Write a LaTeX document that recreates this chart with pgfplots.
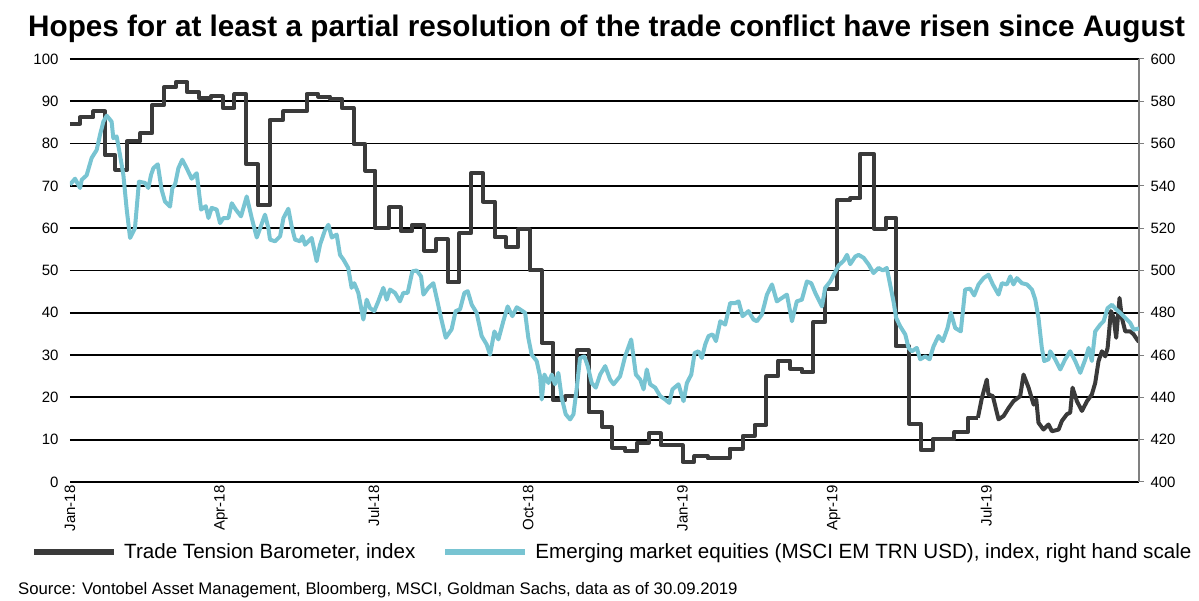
\documentclass[border=0pt]{standalone}
\usepackage{pgfplots}
\pgfplotsset{compat=1.18}
\usepackage{fontspec}
\setmainfont{Liberation Sans}

\definecolor{ttb}{RGB}{58,58,58}
\definecolor{msci}{RGB}{120,196,210}
\definecolor{raxis}{RGB}{128,128,128}

\begin{document}
\begin{tikzpicture}
\path[use as bounding box] (-70pt,-119pt) rectangle (1129pt,482pt);

% title and source (pixel-matched, 1pt ~ 1px)
\node[anchor=base west, font=\fontsize{29.7}{32}\selectfont\bfseries, inner sep=0pt]
  at (-42pt,445pt) {Hopes for at least a partial resolution of the trade conflict have risen since August};
\node[anchor=base west, font=\fontsize{16.75}{19}\selectfont, inner sep=0pt]
  at (-52pt,-113pt) {Source: Vontobel Asset Management, Bloomberg, MSCI, Goldman Sachs, data as of 30.09.2019};

% left scale: Trade Tension Barometer (days since 1 Jan 2018)
\begin{axis}[
    scale only axis,
    width=1069pt, height=423pt,
    xmin=0, xmax=637,
    ymin=0, ymax=100,
    ytick distance=10,
    xtick={0,90,181,273,365,455,546},
    xticklabels={Jan-18,Apr-18,Jul-18,Oct-18,Jan-19,Apr-19,Jul-19},
    xticklabel style={rotate=90, anchor=east, font=\fontsize{15}{17}\selectfont},
    yticklabel style={font=\fontsize{15}{17}\selectfont, xshift=-8pt},
    /pgf/number format/assume math mode=true,
    axis line style={draw=none},
    major tick length=0pt,
    ymajorgrids=true,
    grid style={black, line width=1.8pt},
    tick label style={black},
]
\addplot[const plot, color=ttb, line width=4pt, line join=round] coordinates {
(0,84.7)(6,86.2)(14,87.6)(21,77.2)(27,73.8)(34,80.5)(42,82.5)(49,89.1)(56,93.3)(63,94.5)
(70,92.1)(77,90.7)(84,91.2)(91,88.4)(98,91.7)(105,75.1)(112,65.4)(119,85.6)(127,87.6)(141,91.7)
(148,91.1)(155,90.5)(162,88.4)(169,79.9)(176,73.6)(182,60.0)(190,64.9)(197,59.4)(204,60.8)(211,54.7)
(218,57.4)(225,47.2)(232,58.8)(239,73.0)(246,66.3)(253,57.8)(260,55.5)(267,59.8)(274,50.0)(281,32.9)
(288,19.3)(295,20.3)(302,31.1)(309,16.5)(317,13.0)(323,8.1)(331,7.3)(338,9.3)(345,11.5)(352,8.7)
(365,4.8)(372,6.1)(380,5.6)(393,7.9)(401,10.9)(408,13.5)(415,25.0)(422,28.7)(429,26.8)(436,26.0)
(443,37.8)(450,45.6)(457,66.6)(465,67.1)(471,77.6)(479,59.9)(486,62.5)(492,32.1)(500,13.8)(507,7.5)
(514,10.1)(527,11.8)(535,15.2)(541,15.2)
};
\addplot[color=ttb, line width=4pt, line join=round] coordinates {
(541,15.2)(543.4,19.9)(546.3,24.2)(547.3,20.7)(549.9,20.3)(553.3,14.8)(556.3,15.6)(559.3,17.5)
(562.2,19.1)(566.2,20.3)(568.2,25.4)(571.2,22.3)(574.2,18.3)(575.8,19.5)(577.1,14.0)(580.1,12.4)
(583.1,13.6)(585.1,12.0)(589.1,12.4)(591,14.4)(594,16.0)(596,16.4)(597.4,22.3)(600,19.1)
(603,16.8)(606,19.1)(608.9,20.7)(610.9,23.4)(612.9,28.6)(614.9,30.9)(616.9,29.7)(618.3,31.7)
(620.3,40.4)(621.9,38.8)(623.4,34.1)(625.4,43.5)(626.8,38.8)(628.8,35.6)(631.8,35.6)(633.8,34.9)
(635.8,33.7)(637,33.1)
};
\end{axis}

% right scale: MSCI EM TRN USD
\begin{axis}[
    scale only axis,
    width=1069pt, height=423pt,
    xmin=0, xmax=637,
    ymin=400, ymax=600,
    ytick distance=20,
    axis x line=none,
    axis y line*=right,
    y axis line style={raxis, line width=1.5pt, -},
    ytick style={raxis, line width=1pt},
    tick align=outside,
    major tick length=5pt,
    yticklabel style={font=\fontsize{15}{17}\selectfont, black, xshift=3pt},
    /pgf/number format/assume math mode=true,
    legend style={at={(axis description cs:-0.0365,-0.1655)}, anchor=west,
        draw=none, fill=none, inner sep=0pt,
        font=\fontsize{20.6}{23}\selectfont,
        /tikz/every even column/.append style={column sep=25pt}},
    legend columns=2,
    legend cell align=left,
    legend image code/.code={
        \draw[#1, line width=6pt, line cap=butt] (0pt,0pt) -- (80pt,0pt);
        \path[draw=none] (80pt,0pt) -- (88pt,0pt);},
]
\addlegendimage{color=ttb, line width=4pt}
\addlegendentry{Trade Tension Barometer, index}
\addplot[color=msci, line width=4pt, line join=round] coordinates {
(0,540.6)(3.0,543.4)(6.0,539.0)(7.0,542.9)(9.9,545.0)(12.9,553.2)(15.9,557.0)(17.9,564.2)(19.9,570.4)(21.9,573.2)
(24.8,570.4)(25.8,562.6)(27.8,563.4)(29.8,554.6)(31.8,545.2)(33.8,528.8)(35.8,515.4)(38.7,520.0)(41.1,542.0)(44.7,541.4)
(46.7,539.0)(48.3,545.2)(49.7,548.4)(52.3,550.2)(54.6,538.2)(56.6,532.6)(59.6,530.2)(61.0,539.0)(62.6,540.6)(64.6,548.4)
(66.9,552.4)(69.5,548.4)(72.5,543.4)(75.5,546.0)(78.1,528.8)(80.9,530.4)(82.5,524.8)(84.4,529.6)(87.4,528.8)(89.4,522.4)
(91.4,524.8)(94.4,524.8)(96.4,531.8)(98.8,528.8)(101.9,525.6)(105.3,535.0)(108.3,524.8)(111.3,515.6)(113.3,520.0)(116.2,526.4)
(118.2,520.0)(119.2,514.6)(122.2,513.8)(125.2,516.2)(127.2,524.8)(130.1,529.2)(132.1,520.8)(134.1,514.6)(137.1,513.8)(138.5,516.2)
(140.1,512.2)(143.1,514.6)(144.0,515.4)(147.0,504.4)(149.0,512.2)(152.0,519.2)(154.0,521.6)(156.0,515.6)(158.9,517.0)(160.9,507.4)
(162.9,505.2)(165.8,501.2)(167.8,491.8)(169.4,494.0)(171.8,489.4)(174.8,476.8)(176.8,486.2)(178.8,482.2)(181.3,480.8)(183.7,485.4)
(186.7,491.8)(188.7,486.2)(190.7,491.0)(193.7,489.4)(196.6,485.4)(198.6,489.4)(201.2,489.4)(204.0,499.6)(206.6,500.0)(209.2,497.2)
(210.6,488.6)(213.5,491.8)(216.5,494.0)(218.5,487.0)(221.1,477.6)(223.9,468.2)(227.4,472.2)(229.8,480.8)(232.4,481.6)(235.0,489.4)
(237.0,490.2)(239.4,483.8)(242.3,480.0)(245.3,469.0)(248.3,465.0)(250.3,460.2)(252.9,471.2)(255.3,467.4)(258.2,476.0)(260.8,483.0)
(263.6,478.4)(266.2,482.6)(268.2,481.6)(271.2,480.0)(273.1,468.2)(275.1,460.2)(278.1,457.2)(280.1,450.0)(281.1,439.0)(282.7,450.8)
(285.1,446.8)(287.1,450.8)(289.0,446.2)(291.0,451.6)(293.0,439.8)(295.4,432.0)(298.0,429.6)(300.0,432.0)(302.0,444.6)(303.9,458.6)
(306.5,459.4)(308.5,454.8)(310.9,446.8)(313.3,444.6)(315.9,450.8)(318.9,454.8)(321.9,448.4)(323.9,446.2)(327.8,450.0)(330.8,459.4)
(334.4,467.4)(337.2,450.8)(339.8,448.4)(341.8,443.8)(343.7,453.2)(345.7,446.2)(348.7,444.6)(351.7,440.6)(354.7,439.0)(357.1,437.4)
(359.0,443.8)(362.6,446.2)(365.6,438.2)(367.6,446.8)(370.2,450.8)(372.2,461.0)(374.5,461.8)(376.5,458.6)(378.5,465.0)(380.5,469.0)
(382.9,469.8)(384.9,466.6)(387.5,476.0)(390.4,474.4)(393.4,484.6)(396.4,484.6)(398.4,485.4)(400.8,478.4)(404.3,480.8)(407.3,476.8)
(409.3,476.0)(412.3,479.2)(415.3,488.6)(418.3,493.4)(421.2,485.4)(424.2,487.0)(427.2,488.6)(430.2,476.0)(433.1,485.4)(436.1,486.2)
(439.1,494.8)(441.7,494.0)(444.1,489.4)(448.1,483.0)(450.0,491.8)(453.0,494.8)(455.6,498.8)(458.0,502.4)(461.0,504.6)(463.0,507.4)
(464.9,503.0)(467.9,506.6)(469.9,507.4)(472.9,506.0)(475.9,502.8)(478.8,498.8)(481.8,501.2)(484.4,500.0)(486.7,501.2)(488.7,493.4)
(490.7,485.4)(492.3,477.6)(494.7,473.6)(497.7,469.8)(499.7,463.4)(501.6,461.8)(504.6,463.4)(506.6,458.0)(509.6,459.4)(512.2,458.0)
(514.6,464.2)(517.5,469.0)(520.1,466.6)(522.9,472.8)(524.9,480.0)(527.5,472.8)(530.8,471.2)(533.4,491.0)(536.4,491.4)(538.8,488.2)
(541.4,493.4)(544.4,496.4)(547.3,498.0)(549.9,493.4)(553.3,488.6)(555.3,494.0)(558.3,493.4)(560.3,497.2)(562.2,493.4)(564.2,496.4)
(567.2,494.0)(570.2,493.4)(573.2,491.0)(575.2,486.2)(577.1,477.6)(579.1,463.4)(580.5,457.2)(583.1,458.0)(584.1,461.8)(587.1,458.0)
(590.1,453.2)(593.0,458.0)(596.0,461.8)(599.0,457.2)(602.0,451.6)(605.0,458.0)(607.0,463.4)(608.9,457.2)(610.9,471.2)(613.9,474.4)
(615.9,476.0)(618.3,482.2)(620.9,483.8)(623.4,481.6)(625.8,480.0)(628.8,477.6)(631.8,475.2)(633.8,472.0)(637.0,472.6)
};
\addlegendentry{Emerging market equities (MSCI EM TRN USD), index, right hand scale}
\end{axis}
\end{tikzpicture}
\end{document}
